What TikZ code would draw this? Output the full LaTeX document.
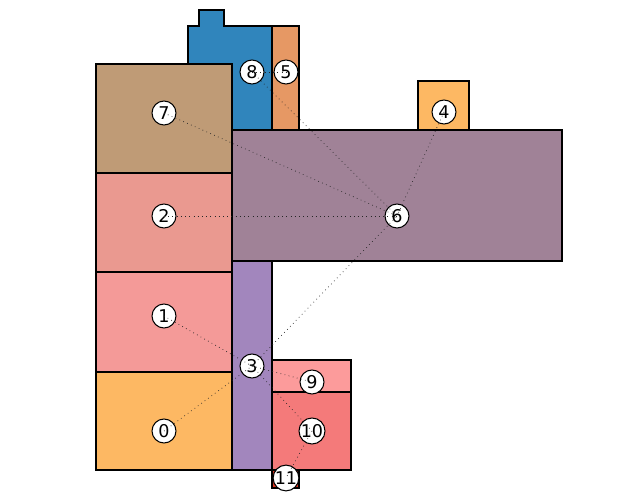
\documentclass[tikz,border=0pt]{standalone}
\usepackage{fontspec}
\setmainfont{DejaVu Sans}
\usetikzlibrary{positioning}
\definecolor{rzero}{HTML}{FDB863}
\definecolor{rone}{HTML}{F49A98}
\definecolor{rtwo}{HTML}{EA9990}
\definecolor{rthree}{HTML}{A286BD}
\definecolor{rfour}{HTML}{FDB863}
\definecolor{rfive}{HTML}{E69864}
\definecolor{rsix}{HTML}{A08297}
\definecolor{rseven}{HTML}{BF9B76}
\definecolor{reight}{HTML}{3085BC}
\definecolor{rnine}{HTML}{FC9B9B}
\definecolor{rten}{HTML}{F47A7A}
\definecolor{releven}{HTML}{D9341F}

\begin{document}
\begin{tikzpicture}[x=0.02cm, y=-0.02cm,
  room/.style={draw=black, line width=0.6pt},
  spot/.style={circle, draw, fill=white, line width=0.6pt, minimum size=0.48cm,
               inner sep=0pt, font=\fontsize{10}{11}\selectfont},
  link/.style={dotted, line width=0.4pt, black!85},
]
  \useasboundingbox (0,0) rectangle (640,500);

  % rooms
  \draw[room, fill=reight] (188,26) -- (199,26) -- (199,10) -- (224,10) -- (224,26)
    -- (272,26) -- (272,130) -- (188,130) -- cycle;
  \draw[room, fill=rfive] (272,26) rectangle (299,130);
  \draw[room, fill=rfour] (418,81) rectangle (469,130);
  \draw[room, fill=rseven] (96,64) rectangle (232,173);
  \draw[room, fill=rtwo] (96,173) rectangle (232,272);
  \draw[room, fill=rone] (96,272) rectangle (232,372);
  \draw[room, fill=rzero] (96,372) rectangle (232,470);
  \draw[room, fill=rsix] (232,130) rectangle (562,261);
  \draw[room, fill=rthree] (232,261) rectangle (272,470);
  \draw[room, fill=rnine] (272,360) rectangle (351,392);
  \draw[room, fill=rten] (272,392) rectangle (351,470);
  \draw[room, fill=releven] (272,470) rectangle (299,488);

  % room labels
  \foreach \i/\x/\y in {0/164/431, 1/164/316, 2/164/216, 3/252/366, 4/444/112,
                        5/286/72, 6/397/216, 7/164/113, 8/252/72, 9/312/382,
                        10/312/431, 11/286/478}
    \node[spot] (n\i) at (\x,\y) {\i};

  % adjacency
  \foreach \a/\b in {0/3, 1/3, 3/6, 3/9, 3/10, 10/11, 2/6, 7/6, 8/6, 4/6, 8/5}
    \draw[link] (n\a.center) -- (n\b.center);
\end{tikzpicture}
\end{document}
